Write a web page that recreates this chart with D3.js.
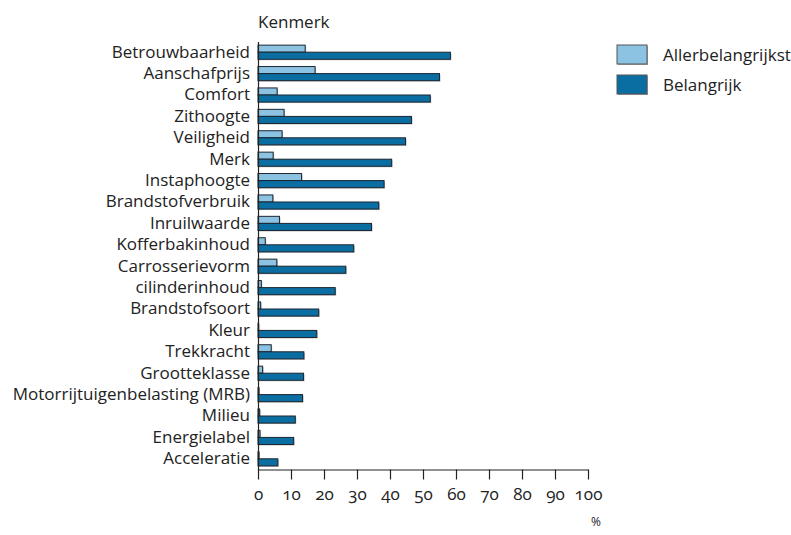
<!DOCTYPE html>
<html><head><meta charset="utf-8">
<script src="https://cdn.jsdelivr.net/npm/d3@7"></script>
<style>
body{margin:0;background:#fff;}
text{font-family:"Open Sans",sans-serif;fill:#222;}
.tick text{font-variant-numeric:oldstyle-nums;font-feature-settings:"onum" 1;}
</style></head><body>
<svg id="c" width="791" height="535"></svg>
<script>
const categories = ["Betrouwbaarheid","Aanschafprijs","Comfort","Zithoogte","Veiligheid","Merk","Instaphoogte","Brandstofverbruik","Inruilwaarde","Kofferbakinhoud","Carrosserievorm","cilinderinhoud","Brandstofsoort","Kleur","Trekkracht","Grootteklasse","Motorrijtuigenbelasting (MRB)","Milieu","Energielabel","Acceleratie"];
const allerbelangrijkst = [14.3,17.3,5.8,7.9,7.3,4.6,13.2,4.5,6.5,2.2,5.7,1.0,0.8,0.2,4.0,1.4,0.3,0.5,0.6,0.3];
const belangrijk = [58.3,55.0,52.2,46.5,44.7,40.5,38.2,36.6,34.4,29.0,26.6,23.4,18.4,17.8,13.9,13.8,13.5,11.3,10.8,6.0];
const seriesNames = ["Allerbelangrijkst","Belangrijk"];
const ticks = [0,10,20,30,40,50,60,70,80,90,100];
const colors = ["#8cc2e2","#0a6ea3"];

const svg = d3.select("#c");
const x = d3.scaleLinear().domain([0,100]).range([258,588]);
const y = d3.scaleBand().domain(categories).range([41,469]).paddingInner(0.34).paddingOuter(0.17);
const sub = d3.scaleBand().domain(seriesNames).range([0,y.bandwidth()]);

const series = [allerbelangrijkst, belangrijk];
series.forEach((vals,si)=>{
  const g = svg.append("g");
  g.selectAll("rect.s").data(vals).join("rect")
    .attr("x", x(0)+1).attr("y",(d,i)=>y(categories[i])+sub(seriesNames[si])+1.5)
    .attr("width", d=>Math.max(0,x(d)-x(0))).attr("height", sub.bandwidth())
    .attr("fill","#bbb");
  g.selectAll("rect.b").data(vals).join("rect")
    .attr("x", x(0)).attr("y",(d,i)=>y(categories[i])+sub(seriesNames[si])+0.5)
    .attr("width", d=>Math.max(0,x(d)-x(0))).attr("height", sub.bandwidth())
    .attr("fill",colors[si]).attr("stroke","#1b2630").attr("stroke-width",1);
});

svg.append("line").attr("x1",258.5).attr("x2",258.5).attr("y1",42).attr("y2",470).attr("stroke","#222").attr("stroke-width",1.2);
svg.append("g").selectAll("text").data(categories).join("text")
  .attr("x",250).attr("y",d=>y(d)+y.bandwidth()/2).attr("dy","0.35em")
  .attr("text-anchor","end").attr("font-size",17).text(d=>d);

const xa = svg.append("g").attr("transform","translate(0,469.5)")
  .call(d3.axisBottom(x).tickValues(ticks).tickSize(10).tickSizeOuter(0).tickPadding(8));
xa.attr("font-family",null).attr("font-size",null);
xa.select(".domain").attr("stroke","#222").attr("stroke-width",1.2);
xa.selectAll(".tick line").attr("stroke","#222").attr("stroke-width",1.2);
xa.selectAll(".tick text").attr("font-size",17).attr("fill","#222")
  .style("font-family",'"Open Sans"').style("font-feature-settings",'"onum" 1').style("font-variant-numeric","oldstyle-nums");

svg.append("text").attr("x",258).attr("y",28).attr("font-size",17).text("Kenmerk");
svg.append("text").attr("x",596).attr("y",526).attr("font-size",12).attr("text-anchor","middle").text("%");

const lg = svg.append("g");
seriesNames.forEach((n,i)=>{
  lg.append("rect").attr("x",618).attr("y",46+i*30).attr("width",30).attr("height",19).attr("fill","#aaa");
  lg.append("rect").attr("x",617).attr("y",45+i*30).attr("width",30).attr("height",19).attr("fill",colors[i]).attr("stroke","#555").attr("stroke-width",1);
  lg.append("text").attr("x",663).attr("y",55+i*30).attr("dy","0.35em").attr("font-size",17).text(n);
});
</script></body></html>
